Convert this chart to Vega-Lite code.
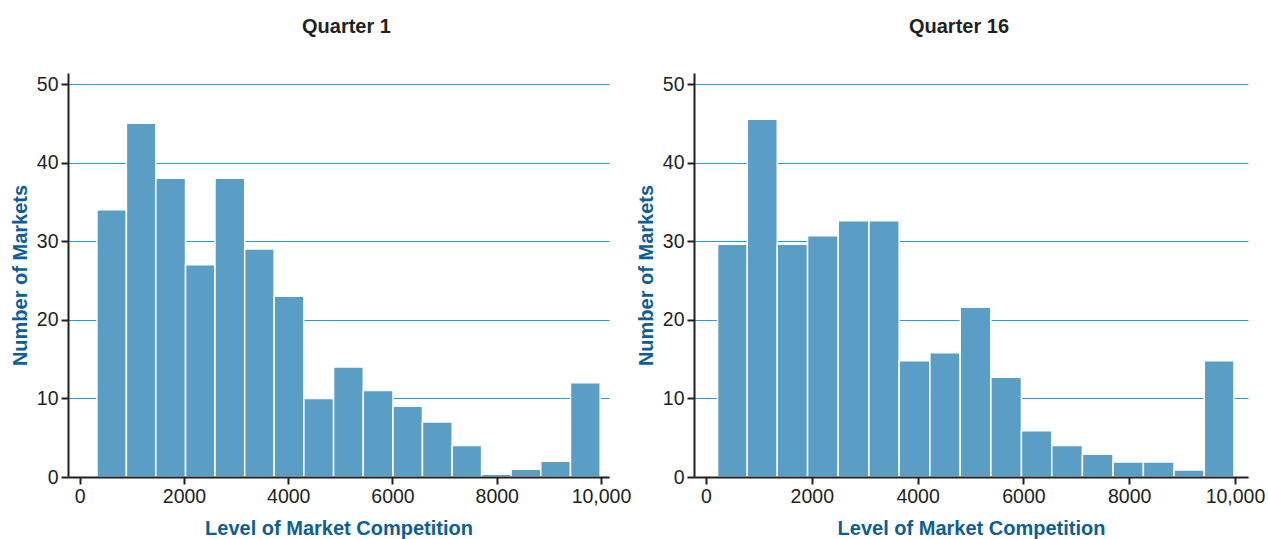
{
  "$schema": "https://vega.github.io/schema/vega-lite/v6.json",
  "autosize": {"type": "pad"},
  "padding": {"left": 10, "top": 17, "right": 0, "bottom": 0},
  "background": "white",
  "bounds": "flush",
  "spacing": 85,
  "config": {
    "view": {"stroke": null},
    "font": "Liberation Sans",
    "title": {"fontSize": 20, "fontWeight": "bold", "color": "#231f20", "font": "Liberation Sans", "anchor": "middle", "offset": 36, "baseline": "alphabetic"},
    "axis": {
      "labelFont": "Liberation Sans",
      "labelFontSize": 19.5,
      "labelColor": "#231f20",
      "titleFont": "Liberation Sans",
      "titleFontSize": 20,
      "titleFontWeight": "bold",
      "titleColor": "#0b5e96",
      "domainColor": "#231f20",
      "domainWidth": 2,
      "tickColor": "#231f20",
      "tickWidth": 2,
      "tickSize": 7,
      "labelPadding": 3
    }
  },
  "datasets": {
    "q1": [
      {"start": 330, "end": 895, "count": 34},
      {"start": 895, "end": 1460, "count": 45},
      {"start": 1460, "end": 2030, "count": 38},
      {"start": 2030, "end": 2595, "count": 27},
      {"start": 2595, "end": 3165, "count": 38},
      {"start": 3165, "end": 3730, "count": 29},
      {"start": 3730, "end": 4300, "count": 23},
      {"start": 4300, "end": 4870, "count": 10},
      {"start": 4870, "end": 5440, "count": 14},
      {"start": 5440, "end": 6010, "count": 11},
      {"start": 6010, "end": 6575, "count": 9},
      {"start": 6575, "end": 7145, "count": 7},
      {"start": 7145, "end": 7710, "count": 4},
      {"start": 7710, "end": 8275, "count": 0.35},
      {"start": 8275, "end": 8845, "count": 1},
      {"start": 8845, "end": 9415, "count": 2},
      {"start": 9415, "end": 9985, "count": 12}
    ],
    "q16": [
      {"start": 219, "end": 780, "count": 29.6},
      {"start": 780, "end": 1347, "count": 45.5},
      {"start": 1347, "end": 1920, "count": 29.6},
      {"start": 1920, "end": 2500, "count": 30.7},
      {"start": 2500, "end": 3080, "count": 32.6},
      {"start": 3080, "end": 3652, "count": 32.6},
      {"start": 3652, "end": 4232, "count": 14.8},
      {"start": 4232, "end": 4805, "count": 15.8},
      {"start": 4805, "end": 5385, "count": 21.6},
      {"start": 5385, "end": 5963, "count": 12.7},
      {"start": 5963, "end": 6536, "count": 5.9},
      {"start": 6536, "end": 7116, "count": 4.0},
      {"start": 7116, "end": 7695, "count": 2.9},
      {"start": 7695, "end": 8268, "count": 1.9},
      {"start": 8268, "end": 8848, "count": 1.9},
      {"start": 8848, "end": 9420, "count": 0.9},
      {"start": 9420, "end": 9981, "count": 14.8}
    ]
  },
  "hconcat": [
    {
      "title": {"text": "Quarter 1", "dx": 8},
      "width": 541,
      "height": 404,
      "data": {"name": "q1"},
      "mark": {"type": "bar", "color": "#5a9dc5", "stroke": "white", "strokeWidth": 1.5},
      "encoding": {
        "x": {
          "field": "start", "type": "quantitative",
          "scale": {"domain": [-225, 10154], "nice": false, "zero": false},
          "axis": {"title": "Level of Market Competition", "values": [0, 2000, 4000, 6000, 8000, 10000], "grid": false, "zindex": 1, "labelExpr": "datum.value == 10000 ? '10,000' : format(datum.value, 'd')", "titlePadding": 13}
        },
        "x2": {"field": "end"},
        "y": {
          "field": "count", "type": "quantitative",
          "scale": {"domain": [0, 51.4], "nice": false},
          "axis": {"title": "Number of Markets", "values": [0, 10, 20, 30, 40, 50], "grid": true, "gridColor": "#1c9fda", "gridWidth": 1.2, "zindex": 0, "titlePadding": 6}
        },
        "y2": {"datum": 0}
      }
    },
    {
      "title": {"text": "Quarter 16", "dx": -12},
      "width": 554,
      "height": 404,
      "data": {"name": "q16"},
      "mark": {"type": "bar", "color": "#5a9dc5", "stroke": "white", "strokeWidth": 1.5},
      "encoding": {
        "x": {
          "field": "start", "type": "quantitative",
          "scale": {"domain": [-227, 10246], "nice": false, "zero": false},
          "axis": {"title": "Level of Market Competition", "values": [0, 2000, 4000, 6000, 8000, 10000], "grid": false, "zindex": 1, "labelExpr": "datum.value == 10000 ? '10,000' : format(datum.value, 'd')", "titlePadding": 13}
        },
        "x2": {"field": "end"},
        "y": {
          "field": "count", "type": "quantitative",
          "scale": {"domain": [0, 51.4], "nice": false},
          "axis": {"title": "Number of Markets", "values": [0, 10, 20, 30, 40, 50], "grid": true, "gridColor": "#1c9fda", "gridWidth": 1.2, "zindex": 0, "titlePadding": 6}
        },
        "y2": {"datum": 0}
      }
    }
  ]
}
